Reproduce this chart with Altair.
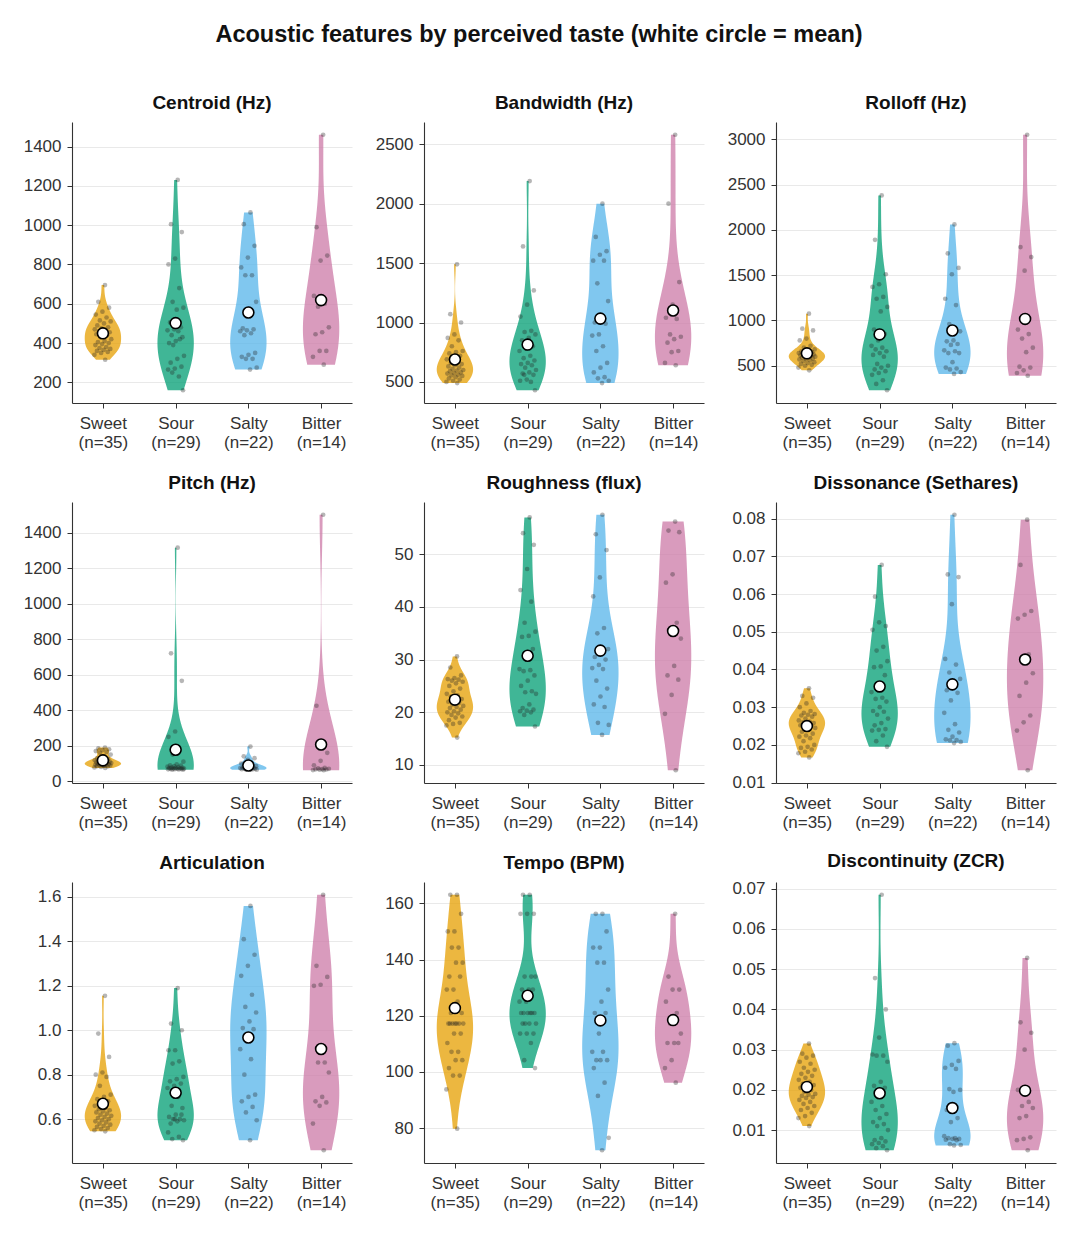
import altair as alt
import numpy as np
import pandas as pd

TASTES = ["Sweet", "Sour", "Salty", "Bitter"]
COLORS = ["#E69F00", "#009E73", "#56B4E9", "#CC79A7"]

# ---- Centroid (Hz)
centroid_sweet = [695, 610, 580, 560, 545, 530, 515, 510, 500, 490, 480, 475, 470, 465, 460, 455, 450, 445, 440, 430, 420, 410, 405, 400, 395, 390, 380, 375, 370, 365, 360, 355, 350, 340, 315]
centroid_sour = [1230, 1005, 965, 830, 800, 680, 610, 580, 570, 505, 480, 470, 465, 460, 440, 430, 410, 400, 420, 390, 335, 320, 300, 280, 270, 265, 230, 250, 160]
centroid_salty = [1065, 1005, 895, 835, 785, 745, 745, 610, 575, 475, 470, 465, 460, 450, 440, 350, 340, 330, 320, 320, 275, 265]
centroid_bitter = [1460, 990, 845, 820, 640, 600, 585, 480, 455, 445, 360, 360, 330, 290]

# ---- Bandwidth (Hz)
bandwidth_sweet = [1490, 1070, 1000, 900, 870, 850, 800, 760, 750, 740, 720, 700, 690, 680, 660, 650, 640, 630, 620, 610, 600, 595, 590, 580, 575, 570, 560, 555, 550, 540, 530, 520, 510, 500, 490]
bandwidth_sour = [2190, 1640, 1270, 1150, 1050, 930, 920, 900, 870, 850, 800, 780, 760, 720, 700, 680, 660, 650, 640, 620, 600, 580, 570, 560, 520, 510, 500, 560, 430]
bandwidth_salty = [2000, 1720, 1600, 1570, 1520, 1520, 1330, 1180, 1010, 1000, 990, 900, 890, 800, 760, 660, 620, 580, 540, 530, 510, 490]
bandwidth_bitter = [2580, 2000, 1340, 1150, 1040, 1030, 900, 880, 860, 830, 760, 750, 660, 640]

# ---- Rolloff (Hz)
rolloff_sweet = [1075, 910, 890, 800, 780, 720, 700, 680, 670, 660, 650, 645, 640, 635, 630, 625, 620, 615, 610, 605, 600, 595, 590, 580, 575, 570, 560, 550, 540, 530, 520, 510, 500, 480, 450]
rolloff_sour = [2380, 1890, 1510, 1400, 1370, 1260, 1240, 1150, 1100, 900, 850, 780, 720, 700, 680, 660, 640, 620, 600, 520, 500, 480, 460, 440, 420, 400, 340, 300, 230]
rolloff_salty = [2060, 1740, 1580, 1510, 1240, 1170, 960, 880, 780, 770, 740, 730, 670, 660, 640, 640, 540, 480, 470, 460, 430, 410]
rolloff_bitter = [3050, 1810, 1700, 1550, 900, 850, 800, 700, 650, 490, 480, 450, 420, 390]

# ---- Pitch (Hz)
pitch_sweet = [190, 185, 180, 175, 170, 165, 160, 150, 140, 130, 125, 120, 118, 115, 112, 110, 108, 106, 105, 104, 102, 100, 98, 96, 95, 94, 92, 90, 88, 86, 85, 83, 80, 78, 75]
pitch_sour = [1315, 720, 565, 280, 250, 180, 150, 110, 95, 90, 88, 85, 82, 80, 78, 76, 75, 74, 73, 72, 71, 70, 70, 69, 68, 67, 66, 65, 65]
pitch_salty = [195, 140, 130, 120, 100, 95, 90, 85, 80, 78, 76, 75, 74, 72, 71, 70, 69, 68, 67, 66, 65, 65]
pitch_bitter = [1500, 425, 160, 115, 90, 75, 72, 70, 68, 67, 66, 65, 63, 62]

# ---- Roughness (flux)
rough_sweet = [30.6, 28.5, 27.0, 26.5, 26.3, 26.2, 26.0, 25.8, 25.5, 25.0, 24.5, 24.0, 23.5, 23.2, 23.0, 22.5, 22.2, 22.0, 21.8, 21.5, 21.2, 21.0, 20.8, 20.5, 20.2, 20.0, 19.8, 19.5, 19.2, 19.0, 18.5, 18.0, 17.8, 17.5, 15.2]
rough_sour = [57.0, 54.0, 51.8, 47.2, 43.2, 41.0, 37.0, 35.3, 34.5, 34.3, 32.0, 30.5, 28.2, 28.0, 27.8, 27.0, 26.0, 25.0, 24.0, 23.8, 23.5, 21.5, 20.8, 20.5, 20.3, 20.2, 20.0, 19.5, 17.3]
rough_salty = [57.5, 53.8, 50.8, 45.6, 42.0, 36.0, 35.0, 32.0, 31.5, 30.5, 30.0, 29.0, 28.4, 28.2, 26.0, 24.5, 23.0, 21.5, 21.0, 18.0, 17.6, 15.7]
rough_bitter = [56.2, 54.5, 54.2, 46.2, 44.6, 37.0, 35.5, 34.0, 28.8, 27.0, 26.2, 23.3, 19.7, 9.0]

# ---- Dissonance (Sethares)
diss_sweet = [0.0350, 0.0330, 0.0325, 0.0310, 0.0300, 0.0290, 0.0285, 0.0282, 0.0280, 0.0278, 0.0275, 0.0270, 0.0265, 0.0262, 0.0260, 0.0258, 0.0255, 0.0252, 0.0250, 0.0248, 0.0245, 0.0240, 0.0235, 0.0230, 0.0225, 0.0222, 0.0218, 0.0210, 0.0200, 0.0195, 0.0192, 0.0188, 0.0182, 0.0178, 0.0167]
diss_sour = [0.0677, 0.0593, 0.0515, 0.0525, 0.0505, 0.0460, 0.0450, 0.0422, 0.0408, 0.0406, 0.0385, 0.0360, 0.0340, 0.0325, 0.0322, 0.0315, 0.0300, 0.0290, 0.0288, 0.0280, 0.0270, 0.0258, 0.0252, 0.0242, 0.0240, 0.0238, 0.0225, 0.0210, 0.0195]
diss_salty = [0.0810, 0.0652, 0.0645, 0.0573, 0.0428, 0.0413, 0.0392, 0.0375, 0.0355, 0.0345, 0.0338, 0.0318, 0.0285, 0.0255, 0.0240, 0.0233, 0.0222, 0.0215, 0.0213, 0.0212, 0.0208, 0.0205]
diss_bitter = [0.0797, 0.0677, 0.0555, 0.0545, 0.0535, 0.0440, 0.0425, 0.0390, 0.0365, 0.0330, 0.0278, 0.0260, 0.0238, 0.0133]

# ---- Articulation
artic_sweet = [1.155, 0.985, 0.88, 0.81, 0.80, 0.79, 0.75, 0.71, 0.70, 0.69, 0.68, 0.67, 0.66, 0.65, 0.645, 0.64, 0.635, 0.63, 0.625, 0.62, 0.615, 0.61, 0.605, 0.60, 0.595, 0.59, 0.585, 0.58, 0.575, 0.57, 0.565, 0.56, 0.555, 0.55, 0.545]
artic_sour = [1.19, 1.03, 1.00, 0.91, 0.91, 0.86, 0.85, 0.79, 0.78, 0.77, 0.76, 0.75, 0.74, 0.70, 0.66, 0.65, 0.62, 0.61, 0.60, 0.60, 0.595, 0.59, 0.58, 0.62, 0.60, 0.54, 0.52, 0.51, 0.505]
artic_salty = [1.56, 1.41, 1.34, 1.29, 1.245, 1.16, 1.105, 1.08, 1.04, 1.01, 1.005, 0.975, 0.915, 0.87, 0.80, 0.71, 0.70, 0.68, 0.655, 0.63, 0.595, 0.505]
artic_bitter = [1.61, 1.29, 1.24, 1.205, 1.20, 0.855, 0.855, 0.81, 0.70, 0.68, 0.675, 0.66, 0.58, 0.46]

# ---- Tempo (BPM)
tempo_sweet = [163.04, 163.04, 156.25, 150.0, 150.0, 144.23, 144.23, 138.89, 138.89, 133.93, 133.93, 129.31, 129.31, 125.0, 120.97, 120.97, 117.19, 117.19, 117.19, 117.19, 117.19, 117.19, 117.19, 113.64, 113.64, 110.29, 107.14, 107.14, 104.17, 104.17, 101.35, 98.68, 98.68, 93.75, 79.79]
tempo_sour = [163.04, 163.04, 156.25, 156.25, 156.25, 133.93, 133.93, 133.93, 129.31, 129.31, 129.31, 125.0, 125.0, 120.97, 120.97, 120.97, 120.97, 120.97, 120.97, 117.19, 117.19, 117.19, 117.19, 113.64, 113.64, 113.64, 110.29, 104.17, 101.35]
tempo_salty = [156.25, 156.25, 150.0, 144.23, 144.23, 138.89, 138.89, 129.31, 125.0, 120.97, 120.97, 113.64, 107.14, 107.14, 104.17, 104.17, 104.17, 101.35, 96.15, 91.46, 76.53, 72.12]
tempo_bitter = [156.25, 133.93, 129.31, 129.31, 125.0, 120.97, 117.19, 113.64, 110.29, 110.29, 110.29, 104.17, 101.35, 96.15]

# ---- Discontinuity (ZCR)
zcr_sweet = [0.0315, 0.0290, 0.0285, 0.0280, 0.0270, 0.0265, 0.0255, 0.0250, 0.0245, 0.0240, 0.0235, 0.0230, 0.0225, 0.0220, 0.0215, 0.0212, 0.0208, 0.0205, 0.0200, 0.0195, 0.0190, 0.0188, 0.0185, 0.0182, 0.0180, 0.0175, 0.0170, 0.0165, 0.0160, 0.0155, 0.0150, 0.0143, 0.0135, 0.0130, 0.0110]
zcr_sour = [0.0685, 0.0478, 0.0400, 0.0330, 0.0288, 0.0285, 0.0285, 0.0270, 0.0220, 0.0210, 0.0205, 0.0185, 0.0170, 0.0160, 0.0150, 0.0140, 0.0130, 0.0120, 0.0115, 0.0110, 0.0100, 0.0080, 0.0075, 0.0072, 0.0068, 0.0065, 0.0060, 0.0055, 0.0050]
zcr_salty = [0.0316, 0.0310, 0.0272, 0.0262, 0.0255, 0.0252, 0.0202, 0.0200, 0.0195, 0.0150, 0.0130, 0.0120, 0.0085, 0.0080, 0.0080, 0.0078, 0.0078, 0.0076, 0.0075, 0.0065, 0.0063, 0.0062]
zcr_bitter = [0.0528, 0.0368, 0.0342, 0.0300, 0.0200, 0.0170, 0.0160, 0.0155, 0.0135, 0.0130, 0.0082, 0.0078, 0.0075, 0.0050]

# feature key, panel title, tick format, tick values, groups
PANELS = [
    ("centroid", "Centroid (Hz)", "d", [200, 400, 600, 800, 1000, 1200, 1400],
     [centroid_sweet, centroid_sour, centroid_salty, centroid_bitter]),
    ("bandwidth", "Bandwidth (Hz)", "d", [500, 1000, 1500, 2000, 2500],
     [bandwidth_sweet, bandwidth_sour, bandwidth_salty, bandwidth_bitter]),
    ("rolloff", "Rolloff (Hz)", "d", [500, 1000, 1500, 2000, 2500, 3000],
     [rolloff_sweet, rolloff_sour, rolloff_salty, rolloff_bitter]),
    ("pitch", "Pitch (Hz)", "d", [0, 200, 400, 600, 800, 1000, 1200, 1400],
     [pitch_sweet, pitch_sour, pitch_salty, pitch_bitter]),
    ("rough", "Roughness (flux)", "d", [10, 20, 30, 40, 50],
     [rough_sweet, rough_sour, rough_salty, rough_bitter]),
    ("diss", "Dissonance (Sethares)", ".2f", [0.01, 0.02, 0.03, 0.04, 0.05, 0.06, 0.07, 0.08],
     [diss_sweet, diss_sour, diss_salty, diss_bitter]),
    ("artic", "Articulation", ".1f", [0.6, 0.8, 1.0, 1.2, 1.4, 1.6],
     [artic_sweet, artic_sour, artic_salty, artic_bitter]),
    ("tempo", "Tempo (BPM)", "d", [80, 100, 120, 140, 160],
     [tempo_sweet, tempo_sour, tempo_salty, tempo_bitter]),
    ("zcr", "Discontinuity (ZCR)", ".2f", [0.01, 0.02, 0.03, 0.04, 0.05, 0.06, 0.07],
     [zcr_sweet, zcr_sour, zcr_salty, zcr_bitter]),
]

rows = []
for key, _, _, _, groups in PANELS:
    for gi, g in enumerate(groups):
        for ri, v in enumerate(g):
            rows.append({"feature": key, "taste": TASTES[gi], "idx": gi + 1, "rid": ri, "value": v})
df = pd.DataFrame(rows)

FONT = "Liberation Sans"
W, H = 280, 281


def panel(key, title, fmt, ticks, groups):
    allv = [v for g in groups for v in g]
    lo, hi = min(allv), max(allv)
    r = hi - lo
    yscale = alt.Scale(domain=[lo - 0.05 * r, hi + 0.05 * r], nice=False, zero=False)
    xscale = alt.Scale(domain=[0.575, 4.425], nice=False, zero=False)
    parts = []
    for i, t in enumerate(TASTES):
        parts.append(f"datum.value == {i + 1} ? ['{t}', '(n={len(groups[i])})']")
    label_expr = " : ".join(parts) + " : ''"
    xaxis = alt.Axis(values=[1, 2, 3, 4], labelExpr=label_expr, title=None, grid=False,
                     tickSize=5, labelPadding=7, labelLineHeight=19,
                     minExtent=50, maxExtent=50)
    yaxis = alt.Axis(values=ticks, format=fmt, title=None, grid=True, gridColor="#e3e3e3",
                     gridWidth=0.8, tickSize=5, labelPadding=6, minExtent=50, maxExtent=50)

    layers = []
    for i, t in enumerate(TASTES):
        g = groups[i]
        n = len(g)
        bw = float(np.std(g, ddof=1) * n ** (-0.2))
        v = (
            alt.Chart(df)
            .transform_filter((alt.datum.feature == key) & (alt.datum.taste == t))
            .transform_density("value", as_=["v", "density"], extent=[min(g), max(g)],
                               steps=240, bandwidth=bw)
            .transform_joinaggregate(dmax="max(density)")
            .transform_calculate(
                xl=f"{i + 1} - 0.25 * datum.density / datum.dmax",
                xr=f"{i + 1} + 0.25 * datum.density / datum.dmax",
            )
            .mark_area(orient="horizontal", color=COLORS[i], opacity=0.75, strokeWidth=0)
            .encode(
                y=alt.Y("v:Q", scale=yscale, axis=yaxis),
                x=alt.X("xl:Q", scale=xscale, axis=xaxis),
                x2="xr:Q",
            )
        )
        layers.append(v)

    pts = (
        alt.Chart(df)
        .transform_filter(alt.datum.feature == key)
        .transform_calculate(jx="datum.idx + 0.24 * (((datum.rid + 1) * 0.6180339) % 1 - 0.5)")
        .mark_circle(size=22, color="#222222", opacity=0.33)
        .encode(
            x=alt.X("jx:Q", scale=xscale, axis=xaxis),
            y=alt.Y("value:Q", scale=yscale, axis=yaxis),
        )
    )
    means = (
        alt.Chart(df)
        .transform_filter(alt.datum.feature == key)
        .transform_aggregate(m="mean(value)", groupby=["idx"])
        .mark_point(shape="circle", filled=True, fill="white", stroke="black",
                    strokeWidth=1.6, size=120, opacity=1)
        .encode(
            x=alt.X("idx:Q", scale=xscale, axis=xaxis),
            y=alt.Y("m:Q", scale=yscale, axis=yaxis),
        )
    )
    return alt.layer(*layers, pts, means).properties(
        width=W, height=H,
        title=alt.TitleParams(title, fontSize=19, fontWeight="bold", font=FONT,
                              offset=9, anchor="middle", frame="group", color="#111111"),
    )


charts = [panel(*p) for p in PANELS]
grid = alt.concat(*charts, columns=3, spacing={"row": 99, "column": 72}, bounds="flush")

chart = (
    grid.properties(
        title=alt.TitleParams("Acoustic features by perceived taste (white circle = mean)",
                              fontSize=23.5, fontWeight="bold", font=FONT, anchor="middle",
                              offset=48, color="#111111"),
        padding={"left": 14, "top": 14, "right": 10, "bottom": 10},
    )
    .configure_view(stroke=None)
    .configure_axis(labelFont=FONT, labelFontSize=17, labelColor="#333333",
                    domainColor="#333333", tickColor="#333333", domainWidth=1.1)
)

chart.save("out.html", embed_options={"renderer": "svg", "actions": False})
